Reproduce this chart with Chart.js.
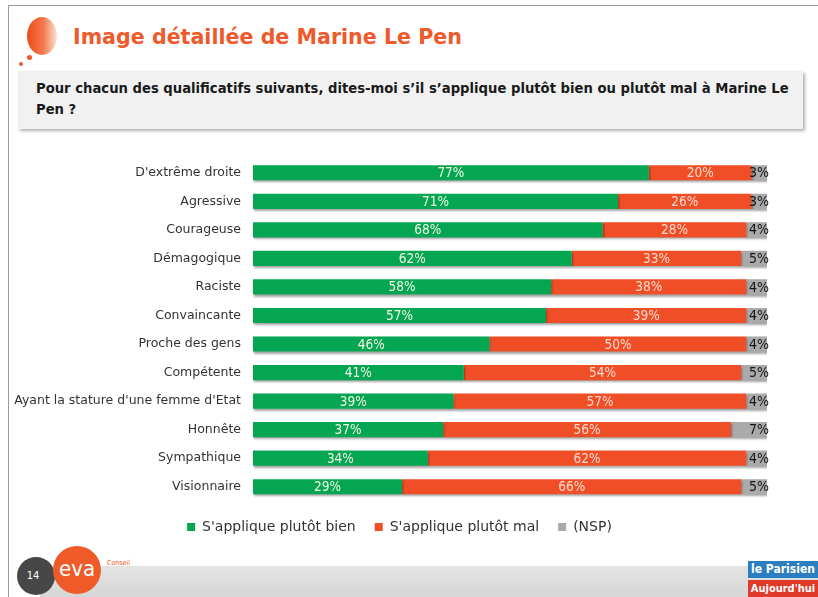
<!DOCTYPE html>
<html>
<head>
<meta charset="utf-8">
<script src="https://cdn.jsdelivr.net/npm/chart.js@4/dist/chart.umd.min.js"></script>
<style>
    body { margin: 0; width: 818px; height: 597px; position: relative; overflow: hidden; background: #fff; font-family: 'DejaVu Sans Condensed', 'DejaVu Sans', sans-serif; }
    .frame { position: absolute; left: 8px; top: 5px; right: -2px; bottom: -2px; border-left: 1px solid #9a9a9a; border-top: 1px solid #9a9a9a; }
    .blob { position: absolute; left: 27px; top: 17px; width: 30px; height: 38px; border-radius: 50%; background: linear-gradient(to right, #ec4a17 0%, #f37a4e 55%, #fde2d6 100%); }
    .dot { position: absolute; border-radius: 50%; background: #ef5a2c; }
    .title { position: absolute; left: 73px; top: 25px; font: bold 20.6px 'DejaVu Sans', sans-serif; color: #ee5a2c; white-space: nowrap; }
    .question { position: absolute; left: 18px; top: 71px; width: 785px; height: 58px; background: #f1f1f1; box-shadow: 2px 2px 3px rgba(0,0,0,0.3); }
    .question p { margin: 0; padding: 7px 0 0 18px; font: bold 13.2px 'DejaVu Sans', sans-serif; line-height: 21px; color: #1a1a1a; white-space: nowrap; }
    .chart-box { position: absolute; left: 0; top: 147px; width: 818px; height: 397px; }
    .band { position: absolute; left: 40px; top: 566px; width: 778px; height: 31px; background: linear-gradient(#e4e4e4, #d6d6d6); }
    .num { position: absolute; left: 17px; top: 557px; width: 38px; height: 38px; border-radius: 50%; background: #474747; color: #fff; font-size: 11px; line-height: 38px; text-align: center; text-indent: -6px; }
    .eva { position: absolute; left: 53px; top: 546px; width: 48px; height: 48px; border-radius: 50%; background: #ee5a28; color: #fff; font-size: 22px; line-height: 46px; text-align: center; }
    .conseil { position: absolute; left: 107px; top: 559px; font-size: 7px; color: #ee5a28; }
    .lp1 { position: absolute; left: 748px; top: 561px; width: 70px; height: 17px; background: #2b7fc1; color: #fff; font: bold 12px 'DejaVu Sans Condensed', sans-serif; line-height: 17px; text-align: center; }
    .lp2 { position: absolute; left: 748px; top: 580px; width: 70px; height: 17px; background: #e03a2a; color: #fff; font: bold 11px 'DejaVu Sans Condensed', sans-serif; line-height: 17px; text-align: center; }
</style>
</head>
<body>
<div class="frame"></div>
<div class="blob"></div>
<div class="dot" style="left:27px;top:55px;width:5px;height:5px;"></div>
<div class="dot" style="left:19px;top:62px;width:4px;height:4px;"></div>
<div class="title">Image détaillée de Marine Le Pen</div>
<div class="question"><p>Pour chacun des qualificatifs suivants, dites-moi s’il s’applique plutôt bien ou plutôt mal à Marine Le<br>Pen ?</p></div>
<div class="chart-box"><canvas id="mlpChart"></canvas></div>
<div class="band"></div>
<div class="num">14</div>
<div class="eva">eva</div>
<div class="conseil">Conseil</div>
<div class="lp1">le Parisien</div>
<div class="lp2">Aujourd'hui</div>

<script>
const categories = [
    "D'extrême droite", 'Agressive', 'Courageuse', 'Démagogique', 'Raciste', 'Convaincante',
    'Proche des gens', 'Compétente', "Ayant la stature d'une femme d'Etat", 'Honnête', 'Sympathique', 'Visionnaire'
];
const seriesNames = ["S'applique plutôt bien", "S'applique plutôt mal", '(NSP)'];
const bienValues = [77, 71, 68, 62, 58, 57, 46, 41, 39, 37, 34, 29];
const malValues = [20, 26, 28, 33, 38, 39, 50, 54, 57, 56, 62, 66];
const nspValues = [3, 3, 4, 5, 4, 4, 4, 5, 4, 7, 4, 5];

const GREEN = '#05a652';
const RED = '#f04e26';
const GREY = '#aaaaaa';

// soft drop shadow under the bars, like the slide
const barShadow = {
    id: 'barShadow',
    beforeDatasetsDraw(chart) {
        const ctx = chart.ctx;
        ctx.save();
        ctx.shadowColor = 'rgba(0,0,0,0.35)';
        ctx.shadowOffsetX = 1;
        ctx.shadowOffsetY = 2;
        ctx.shadowBlur = 2;
    },
    afterDatasetsDraw(chart) {
        chart.ctx.restore();
    }
};

// percentage labels on each segment
const segmentLabels = {
    id: 'segmentLabels',
    afterDatasetsDraw(chart) {
        const ctx = chart.ctx;
        ctx.save();
        ctx.textBaseline = 'middle';
        chart.data.datasets.forEach((ds, di) => {
            const meta = chart.getDatasetMeta(di);
            meta.data.forEach((bar, i) => {
                const txt = ds.data[i] + '%';
                if (di === 2) {
                    ctx.font = '14px "DejaVu Sans Condensed"';
                    ctx.fillStyle = '#151515';
                    ctx.textAlign = 'right';
                    ctx.fillText(txt, bar.x + 2, bar.y + 1);
                } else {
                    ctx.font = '13.5px "DejaVu Sans Condensed"';
                    ctx.fillStyle = di === 0 ? '#f2f8e4' : 'rgba(255,225,215,0.95)';
                    ctx.textAlign = 'center';
                    ctx.fillText(txt, (bar.base + bar.x) / 2, bar.y + 1);
                }
            });
        });
        ctx.restore();
    }
};

// legend sits a little to the right of the canvas centre on the slide
const legendShift = {
    id: 'legendShift',
    afterLayout(chart) {
        chart.legend.left += 32;
    }
};

const ctx = document.getElementById('mlpChart').getContext('2d');

new Chart(ctx, {
    type: 'bar',
    data: {
        labels: categories,
        datasets: [
            { label: seriesNames[0], data: bienValues, backgroundColor: GREEN },
            { label: seriesNames[1], data: malValues, backgroundColor: RED },
            { label: seriesNames[2], data: nspValues, backgroundColor: GREY }
        ]
    },
    options: {
        indexAxis: 'y',
        responsive: true,
        maintainAspectRatio: false,
        animation: false,
        datasets: { bar: { barPercentage: 0.53, categoryPercentage: 1 } },
        layout: { padding: { top: 5, right: 51, bottom: 0, left: 0 } },
        plugins: {
            legend: {
                position: 'bottom',
                labels: {
                    color: '#333',
                    font: { family: 'DejaVu Sans', size: 14 },
                    boxWidth: 8,
                    boxHeight: 8,
                    padding: 19
                }
            },
            tooltip: { enabled: false }
        },
        scales: {
            x: { stacked: true, min: 0, max: 100, display: false },
            y: {
                stacked: true,
                grid: { display: false },
                border: { display: false },
                ticks: {
                    color: '#333',
                    padding: 4,
                    font: { family: 'DejaVu Sans', size: 12.5 }
                },
                afterFit(scale) { scale.width = 253; }
            }
        }
    },
    plugins: [barShadow, segmentLabels, legendShift]
});
</script>
</body>
</html>
